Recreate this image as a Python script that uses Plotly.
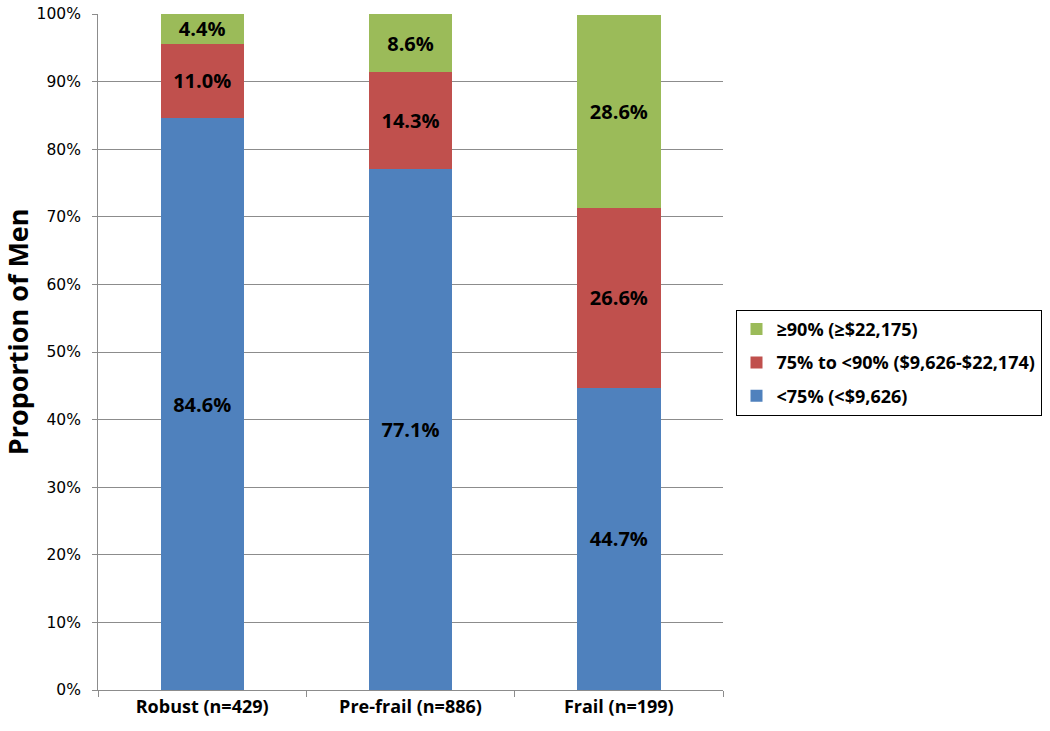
import plotly.graph_objects as go

categories = ["Robust (n=429)", "Pre-frail (n=886)", "Frail (n=199)"]
series_names = ["<75% (<$9,626)", "75% to <90% ($9,626-$22,174)", "≥90% (≥$22,175)"]
low_vals = [84.6, 77.1, 44.7]
mid_vals = [11.0, 14.3, 26.6]
high_vals = [4.4, 8.6, 28.6]
colors = ["#4F81BD", "#C0504D", "#9BBB59"]
legend_ranks = [3, 2, 1]
tick_vals = [0, 10, 20, 30, 40, 50, 60, 70, 80, 90, 100]
tick_text = [f"{v}%" for v in tick_vals]

fig = go.Figure()
for i, (name, vals, col) in enumerate(zip(series_names, [low_vals, mid_vals, high_vals], colors)):
    fig.add_trace(go.Bar(
        x=categories, y=vals, name=name, legendgroup=f"g{i}",
        legendrank=legend_ranks[i],
        marker=dict(color=col, line=dict(width=0)),
        text=[f"{v:.1f}%" for v in vals],
        textposition="inside", insidetextanchor="middle",
        textangle=0, constraintext="none",
        textfont=dict(family="Open Sans", size=20, color="black", weight="bold"),
    ))

fig.update_layout(
    barmode="stack",
    bargap=0.6,
    width=1050, height=731,
    paper_bgcolor="white", plot_bgcolor="white",
    margin=dict(l=98, r=327, t=14, b=41, autoexpand=False),
    font=dict(family="Open Sans", color="black"),
    legend=dict(
        traceorder="grouped",
        x=1.02, xanchor="left", y=0.484, yanchor="middle",
        bordercolor="black", borderwidth=1,
        font=dict(size=18, family="Open Sans", weight="bold"),
        itemwidth=30, tracegroupgap=7,
    ),
    showlegend=True,
    annotations=[dict(
        text="<b>Proportion of Men</b>", textangle=-90,
        xref="paper", yref="paper", x=-0.16, y=0.53,
        xanchor="left", yanchor="middle", showarrow=False, borderpad=0,
        font=dict(family="Open Sans", size=27, color="black"),
    )],
)
fig.update_yaxes(
    range=[0, 100], tickvals=tick_vals, ticktext=tick_text,
    showgrid=True, gridcolor="#8C8C8C", gridwidth=1,
    showline=True, linecolor="#8C8C8C", linewidth=1,
    ticks="outside", ticklen=5, tickcolor="#8C8C8C",
    ticklabelstandoff=8,
    tickfont=dict(family="DejaVu Sans", size=15.5, color="black"),
    zeroline=False, automargin=False,
)
fig.update_xaxes(
    showline=True, linecolor="#8C8C8C", linewidth=1,
    ticks="outside", ticklen=6, tickcolor="#8C8C8C",
    tickson="boundaries", automargin=False,
    tickfont=dict(family="Open Sans", size=18, color="black", weight="bold"),
)

fig.write_html("out.html", config={"displayModeBar": False},
               post_script="document.body.style.margin='0';")
